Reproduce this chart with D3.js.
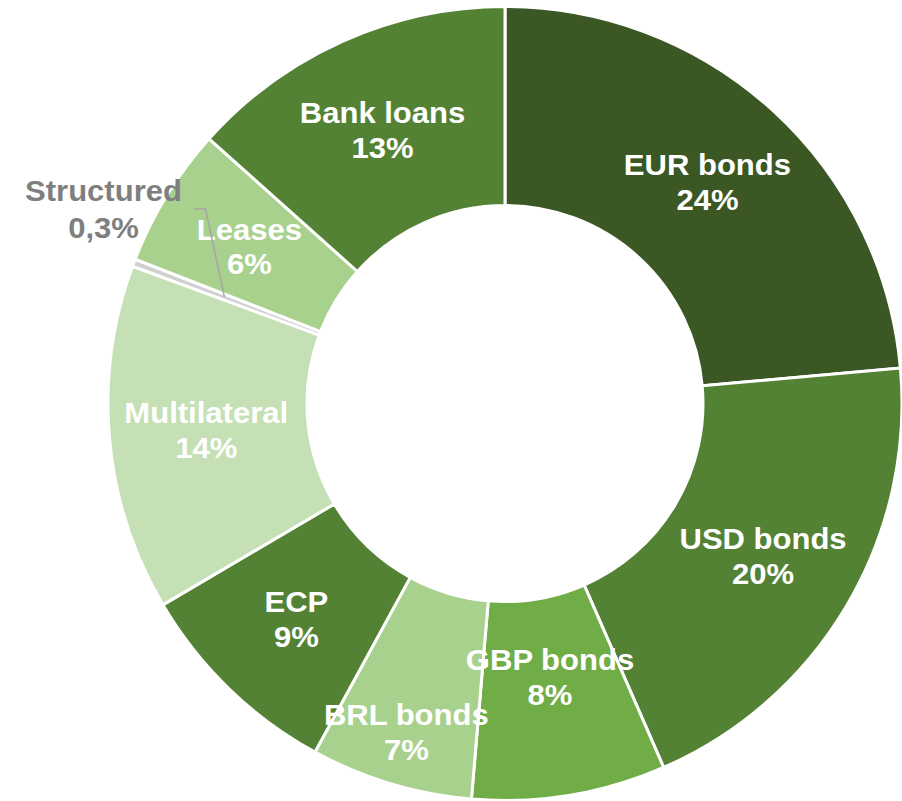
<!DOCTYPE html>
<html>
<head>
<meta charset="utf-8">
<script src="https://cdn.jsdelivr.net/npm/d3@7"></script>
<style>
  html, body { margin: 0; padding: 0; background: #ffffff; }
  svg { display: block; }
  text { font-family: "Liberation Sans", Arial, sans-serif; font-weight: bold; }
</style>
</head>
<body>
<svg id="chart" width="902" height="801"></svg>
<script>
// Funding sources breakdown (share of total, %)
const categories = ["EUR bonds", "USD bonds", "GBP bonds", "BRL bonds", "ECP",
                    "Multilateral", "Structured", "Leases", "Bank loans"];
const shares = [23.6, 19.9, 7.9, 6.6, 8.6, 14.1, 0.3, 5.7, 13.4];
const sliceColors = ["#3a5724", "#548235", "#70ad47", "#a9d18e", "#548235",
                     "#c5e0b4", "#d0d0d0", "#a9d18e", "#548235"];

const W = 902, H = 801;
const cx = 505, cy = 403.5;
const outerR = 397, innerR = 198;
const labelR = 300;
// a couple of labels sit off the ring's midline
const labelRadius = { "GBP bonds": 277, "BRL bonds": 343 };

const data = categories.map((c, i) => ({ name: c, value: shares[i], color: sliceColors[i] }));

const pie = d3.pie().value(d => d.value).sort(null);
const arcs = pie(data);

const arc = d3.arc().innerRadius(innerR).outerRadius(outerR);

const svg = d3.select("#chart");
const g = svg.append("g").attr("transform", `translate(${cx},${cy})`);

g.selectAll("path.slice")
  .data(arcs)
  .join("path")
  .attr("class", "slice")
  .attr("d", arc)
  .attr("fill", d => d.data.color)
  .attr("stroke", "#ffffff")
  .attr("stroke-width", 3)
  .attr("stroke-linejoin", "miter");

function fmt(v) {
  if (v < 1) return d3.format(".1f")(v).replace(".", ",") + "%";
  return Math.round(v) + "%";
}

function labelPos(d, r) {
  const a = (d.startAngle + d.endAngle) / 2;
  return [r * Math.sin(a), -r * Math.cos(a)];
}

const fontSize = 29, stretch = 1.07;

// labels inside the ring
const inside = arcs.filter(d => d.data.value >= 1);
const lg = g.selectAll("g.lbl")
  .data(inside)
  .join("g")
  .attr("class", "lbl")
  .attr("transform", d => {
    const [x, y] = labelPos(d, labelRadius[d.data.name] || labelR);
    return `translate(${x},${y}) scale(${stretch},1)`;
  });

lg.append("text")
  .attr("text-anchor", "middle")
  .attr("y", -7)
  .attr("fill", "#ffffff")
  .attr("font-size", fontSize)
  .text(d => d.data.name);

lg.append("text")
  .attr("text-anchor", "middle")
  .attr("y", 28)
  .attr("fill", "#ffffff")
  .attr("font-size", fontSize)
  .text(d => fmt(d.data.value));

// tiny slice: label outside with a leader line
const small = arcs.filter(d => d.data.value < 1);
small.forEach(d => {
  const [px, py] = labelPos(d, labelR);
  const elbowX = px - 19, elbowY = py - 88;
  g.append("path")
    .attr("d", d3.line()([[px, py], [elbowX, elbowY], [elbowX - 12, elbowY]]))
    .attr("fill", "none")
    .attr("stroke", "#a6a6a6")
    .attr("stroke-width", 1.5);

  const tg = g.append("g")
    .attr("transform", `translate(${elbowX - 102},${elbowY}) scale(${stretch},1)`);
  tg.append("text")
    .attr("text-anchor", "middle")
    .attr("y", -8)
    .attr("fill", "#7f7f7f")
    .attr("font-size", fontSize)
    .text(d.data.name);
  tg.append("text")
    .attr("text-anchor", "middle")
    .attr("y", 29)
    .attr("fill", "#7f7f7f")
    .attr("font-size", fontSize)
    .text(fmt(d.data.value));
});
</script>
</body>
</html>
